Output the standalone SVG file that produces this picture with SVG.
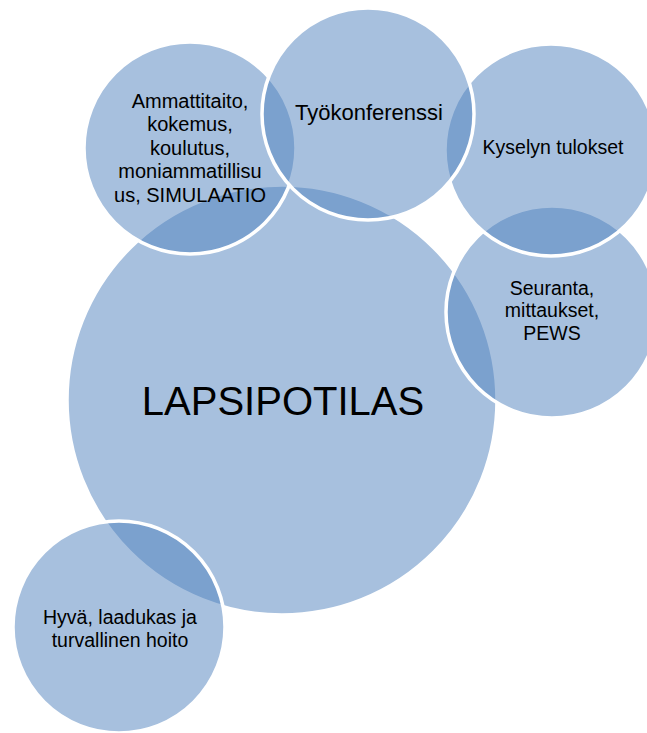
<svg xmlns="http://www.w3.org/2000/svg" width="647" height="733" viewBox="0 0 647 733">
<style>
  .c { fill: #4f81bd; fill-opacity: 0.5; stroke: #ffffff; stroke-width: 3.5; }
  .t { font-family: "Liberation Sans", Arial, sans-serif; font-size: 19.5px; fill: #000000; text-anchor: middle; }
  .big { font-size: 40px; }
  .mid { font-size: 22px; }
</style>
<rect width="647" height="733" fill="#ffffff"/>
<g id="node-lapsipotilas">
  <circle class="c" cx="282" cy="400" r="215"/>
  <text class="t big" x="283" y="415">LAPSIPOTILAS</text>
</g>
<g id="node-hyva">
  <circle class="c" cx="119" cy="627" r="106"/>
  <text class="t" x="120" y="624">Hyvä, laadukas ja</text>
  <text class="t" x="120" y="647">turvallinen hoito</text>
</g>
<g id="node-seuranta">
  <circle class="c" cx="552" cy="312" r="106"/>
  <text class="t" x="552" y="295">Seuranta,</text>
  <text class="t" x="552" y="317">mittaukset,</text>
  <text class="t" x="552" y="340">PEWS</text>
</g>
<g id="node-kyselyn">
  <circle class="c" cx="551" cy="150" r="106"/>
  <text class="t" x="553" y="154">Kyselyn tulokset</text>
</g>
<g id="node-ammattitaito">
  <circle class="c" cx="190" cy="148" r="106"/>
  <text class="t" x="190" y="108" style="font-size:20px">Ammattitaito,</text>
  <text class="t" x="190" y="131" style="font-size:20px">kokemus,</text>
  <text class="t" x="190" y="155" style="font-size:20px">koulutus,</text>
  <text class="t" x="190" y="178" style="font-size:20px">moniammatillisu</text>
  <text class="t" x="190" y="202" style="font-size:20px">us, SIMULAATIO</text>
</g>
<g id="node-tyokonferenssi">
  <circle class="c" cx="368" cy="114" r="106"/>
  <text class="t mid" x="369" y="120">Työkonferenssi</text>
</g>
</svg>
